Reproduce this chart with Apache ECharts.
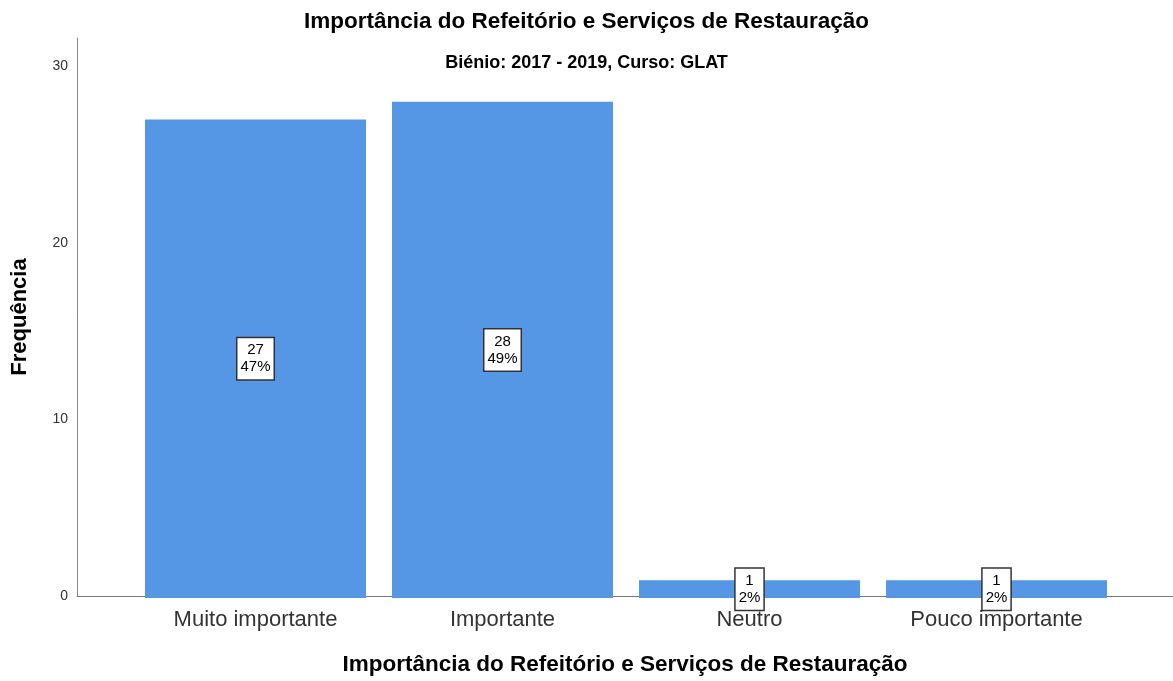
<!DOCTYPE html>
<html>
<head>
<meta charset="utf-8">
<script src="https://cdn.jsdelivr.net/npm/echarts@6/dist/echarts.min.js"></script>
<style>
  html, body { margin: 0; padding: 0; background: #fff; }
  #chart { width: 1173px; height: 681px; }
</style>
</head>
<body>
<div id="chart"></div>
<script>
const categories = ['Muito importante', 'Importante', 'Neutro', 'Pouco importante'];
const counts = [27, 28, 1, 1];
const percents = ['47%', '49%', '2%', '2%'];
const yTicks = [0, 10, 20, 30];

const FONT = '"Liberation Sans", Arial, sans-serif';
const barColor = '#5596e5';
const yMax = 31.6;

const myChart = echarts.init(document.getElementById('chart'));

const option = {
  backgroundColor: '#fff',
  animation: false,
  title: [
    {
      text: 'Importância do Refeitório e Serviços de Restauração',
      left: 'center',
      top: 5,
      textStyle: { fontFamily: FONT, fontSize: 22.5, fontWeight: 'bold', color: '#000' }
    },
    {
      text: 'Biénio: 2017 - 2019, Curso: GLAT',
      left: 'center',
      top: 49,
      textStyle: { fontFamily: FONT, fontSize: 18, fontWeight: 'bold', color: '#000' }
    }
  ],
  grid: [
    // bars
    { left: 132, right: 53, top: 38, bottom: 83 },
    // axis frame
    { left: 77, right: 0, top: 38, bottom: 83 }
  ],
  xAxis: [
    {
      type: 'category',
      gridIndex: 0,
      data: categories,
      axisLine: { show: false },
      axisTick: { show: false },
      axisLabel: { fontFamily: FONT, fontSize: 22, color: '#333', margin: 11 }
    },
    {
      type: 'value',
      gridIndex: 1,
      min: 0,
      max: 1,
      axisLine: { show: true, lineStyle: { color: '#777', width: 1 } },
      axisTick: { show: false },
      axisLabel: { show: false },
      splitLine: { show: false },
      name: 'Importância do Refeitório e Serviços de Restauração',
      nameLocation: 'middle',
      nameGap: 57,
      nameTextStyle: { fontFamily: FONT, fontSize: 22.5, fontWeight: 'bold', color: '#000' }
    }
  ],
  yAxis: [
    {
      type: 'value',
      gridIndex: 0,
      min: 0,
      max: yMax,
      show: false,
      splitLine: { show: false }
    },
    {
      type: 'value',
      gridIndex: 1,
      min: 0,
      max: yMax,
      interval: 10,
      axisLine: { show: true, lineStyle: { color: '#888', width: 1 } },
      axisTick: { show: false },
      splitLine: { show: false },
      axisLabel: {
        fontFamily: FONT,
        fontSize: 14,
        color: '#333',
        margin: 9,
        formatter: (v) => (yTicks.includes(v) ? String(v) : '')
      },
      name: 'Frequência',
      nameLocation: 'middle',
      nameGap: 46,
      nameTextStyle: { fontFamily: FONT, fontSize: 22, fontWeight: 'bold', color: '#000' }
    }
  ],
  series: [
    {
      type: 'bar',
      xAxisIndex: 0,
      yAxisIndex: 0,
      data: counts,
      barWidth: 221,
      itemStyle: { color: barColor },
      label: {
        show: true,
        position: 'inside',
        formatter: (p) => `${counts[p.dataIndex]}\n${percents[p.dataIndex]}`,
        fontFamily: FONT,
        fontSize: 15,
        lineHeight: 17,
        color: '#000',
        backgroundColor: '#fff',
        borderColor: '#333',
        borderWidth: 1.5,
        padding: [4, 3, 3, 3],
        align: 'center'
      }
    }
  ]
};

myChart.setOption(option);
</script>
</body>
</html>
